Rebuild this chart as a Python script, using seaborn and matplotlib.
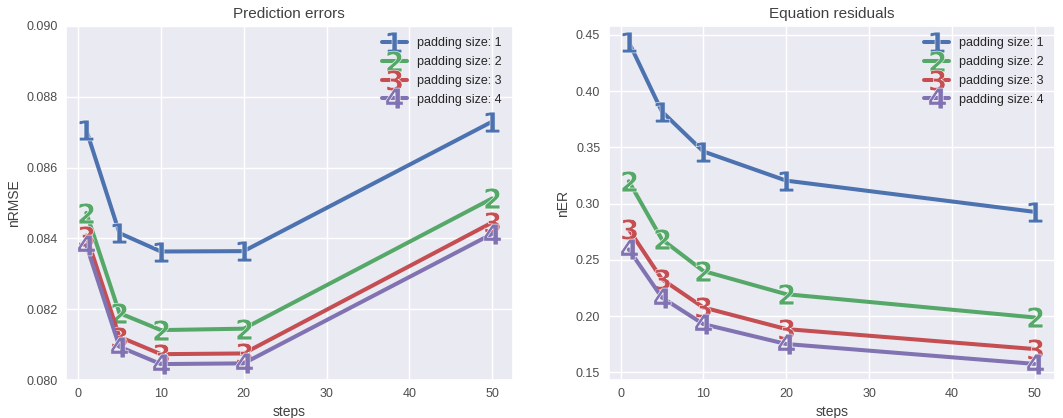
import numpy as np
import pandas as pd
import matplotlib
matplotlib.use("Agg")
import matplotlib.pyplot as plt
import seaborn as sns

# Rollout lengths evaluated
steps = [1, 5, 10, 20, 50]
padding_sizes = [1, 2, 3, 4]

# nRMSE of the predictions for each padding size
nrmse_pad1 = [0.08706, 0.08415, 0.08363, 0.08364, 0.08730]
nrmse_pad2 = [0.08472, 0.08189, 0.08141, 0.08145, 0.08513]
nrmse_pad3 = [0.08408, 0.08122, 0.08073, 0.08075, 0.08445]
nrmse_pad4 = [0.08381, 0.08094, 0.08045, 0.08047, 0.08413]

# Normalised equation residuals for each padding size
ner_pad1 = [0.4436, 0.3818, 0.3463, 0.3204, 0.2926]
ner_pad2 = [0.3198, 0.2681, 0.2400, 0.2194, 0.1987]
ner_pad3 = [0.2770, 0.2327, 0.2076, 0.1884, 0.1706]
ner_pad4 = [0.2592, 0.2164, 0.1928, 0.1751, 0.1574]

labels = [f"padding size: {p}" for p in padding_sizes]
line_colors = ["#4C72B0", "#55A868", "#C44E52", "#8172B2"]


def long_frame(series, value_name):
    rows = []
    for lab, vals in zip(labels, series):
        for s, v in zip(steps, vals):
            rows.append({"steps": s, value_name: v, "padding": lab})
    return pd.DataFrame(rows)


df_nrmse = long_frame([nrmse_pad1, nrmse_pad2, nrmse_pad3, nrmse_pad4], "nRMSE")
df_ner = long_frame([ner_pad1, ner_pad2, ner_pad3, ner_pad4], "nER")

sns.set_theme(style="darkgrid")
plt.rcParams["font.family"] = ["Liberation Sans", "DejaVu Sans"]
plt.rcParams["mathtext.fontset"] = "dejavusans"

markers = {lab: rf"$\mathbf{{{p}}}$" for lab, p in zip(labels, padding_sizes)}
colors = {lab: c for lab, c in zip(labels, line_colors)}

fig, axes = plt.subplots(1, 2, figsize=(10.63, 4.18), dpi=100)
fig.subplots_adjust(left=0.0621, right=0.9925, top=0.9378, bottom=0.0909, wspace=0.215)

panels = [
    (axes[0], df_nrmse, "nRMSE", "Prediction errors"),
    (axes[1], df_ner, "nER", "Equation residuals"),
]

for ax, df, col, title in panels:
    sns.lineplot(
        data=df, x="steps", y=col, hue="padding", style="padding",
        palette=colors, markers=markers, dashes=False,
        linewidth=2.9, markersize=15, markeredgewidth=0.4, ax=ax,
    )
    ax.set_title(title, fontsize=11, color=".25")
    ax.set_xlabel("steps", fontsize=10, color=".25", labelpad=3)
    ax.set_ylabel(col, fontsize=10, color=".25")
    ax.set_xticks([0, 10, 20, 30, 40, 50])
    ax.tick_params(labelsize=9, colors=".3", length=0, pad=6)
    sns.move_legend(ax, "upper right", title=None, frameon=False, fontsize=9,
                    handlelength=2.0, labelspacing=0.55, borderaxespad=0.5)

axes[0].set_ylim(0.080, 0.090)
axes[0].set_yticks(np.arange(0.080, 0.0901, 0.002))
axes[0].yaxis.set_major_formatter(matplotlib.ticker.FormatStrFormatter("%.3f"))

fig.savefig("out.png", dpi=100)
